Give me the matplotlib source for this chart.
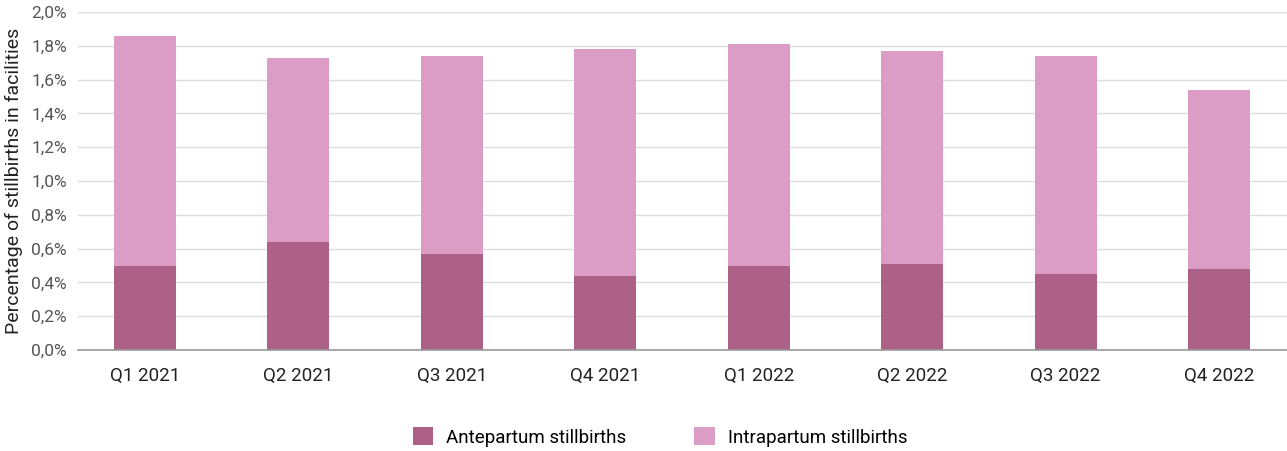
import numpy as np
import matplotlib.pyplot as plt
from matplotlib.ticker import FuncFormatter

quarters = ['Q1 2021', 'Q2 2021', 'Q3 2021', 'Q4 2021',
            'Q1 2022', 'Q2 2022', 'Q3 2022', 'Q4 2022']
antepartum = [0.50, 0.64, 0.57, 0.44, 0.50, 0.51, 0.45, 0.48]
total = [1.86, 1.73, 1.74, 1.78, 1.81, 1.77, 1.74, 1.54]
intrapartum = [t - a for t, a in zip(total, antepartum)]

plt.rcParams['font.family'] = ['Roboto', 'DejaVu Sans']

fig = plt.figure(figsize=(12.87, 4.51), dpi=100)
ax = fig.add_axes([78 / 1287, 1 - 350 / 451, 1209 / 1287, 338 / 451])

x = np.arange(len(quarters))
ax.bar(x, antepartum, width=0.404, color='#ad6186', label='Antepartum stillbirths', zorder=3)
ax.bar(x, intrapartum, width=0.404, bottom=antepartum, color='#db9cc6',
       label='Intrapartum stillbirths', zorder=3)

ax.set_ylim(0, 2.0)
ax.set_yticks(np.arange(0, 2.01, 0.2))
ax.yaxis.set_major_formatter(FuncFormatter(lambda v, p: f'{v:.1f}%'.replace('.', ',')))
ax.set_xlim(-0.437, 7.443)
ax.set_xticks(x)
ax.set_xticklabels(quarters)

ax.grid(axis='y', color='#dddddd', linewidth=1, zorder=0)
for s in ['top', 'right', 'left']:
    ax.spines[s].set_visible(False)
ax.spines['bottom'].set_color('#999999')
ax.spines['bottom'].set_linewidth(1.2)
ax.spines['bottom'].set_zorder(4)
ax.tick_params(axis='y', length=0, pad=8, labelsize=12.5, labelcolor='#555555')
ax.tick_params(axis='x', length=0, pad=12, labelsize=13.5, labelcolor='#222222')
ax.set_ylabel('Percentage of stillbirths in facilities', fontsize=14, color='#222222', labelpad=6)

fig.legend(loc='center', bbox_to_anchor=(660 / 1287, 1 - 437 / 451), ncol=2,
           frameon=False, fontsize=13.5, handlelength=1.1, handleheight=1.1,
           columnspacing=3.6, handletextpad=0.7)

fig.savefig('out.png', dpi=100)
